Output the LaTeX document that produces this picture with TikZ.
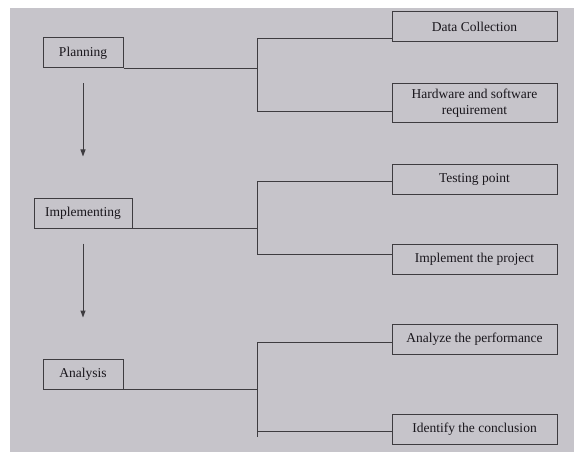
\documentclass[tikz,border=0pt]{standalone}
\usepackage{fontspec}
\setmainfont{Liberation Serif}
\usepackage{xcolor}
\usetikzlibrary{arrows.meta,calc,positioning}

\definecolor{paper}{RGB}{198,196,202}
\definecolor{ink}{RGB}{62,60,64}
\definecolor{textink}{RGB}{25,22,28}

\begin{document}
\begin{tikzpicture}[x=1pt, y=-1pt,
 phase/.style={draw=ink, line width=1pt, minimum height=30pt, inner sep=0pt,
  font=\fontsize{13.5}{16}\selectfont, text=textink},
 task/.style={phase, minimum width=165pt, align=center},
 link/.style={ink, line width=1pt},
 flow/.style={link, -{Triangle[length=7pt,width=5pt]}}]
% Page
\useasboundingbox (0,0) rectangle (574,452);
\fill[paper] (10,8) rectangle (574,452);

% Phases (left column)
\node[phase, minimum width=80pt] (plan) at (83,53) {Planning};
\node[phase, minimum width=98pt] (impl) at (83,213) {Implementing};
\node[phase, minimum width=80pt] (anal) at (83,374) {Analysis};

% Tasks (right column)
\node[task] (data) at (474.5,27) {Data Collection};
\node[task, minimum height=39pt] (hw) at (474.5,103.5) {Hardware and software\\requirement};
\node[task] (test) at (474.5,179.5) {Testing point};
\node[task] (proj) at (474.5,259) {Implement the project};
\node[task] (perf) at (474.5,339.5) {Analyze the performance};
\node[task] (conc) at (474.5,429) {Identify the conclusion};

% Bracket corners
\coordinate (pt) at (257,39);
\coordinate (pb) at (257,112);
\coordinate (it) at (257,182);
\coordinate (ib) at (257,254);
\coordinate (at) at (257,342);
\coordinate (ab) at (257,431);
\coordinate (aend) at (257,437);

% Planning bracket
\draw[link] (plan.south east) -- (plan.south east -| pt);
\draw[link] (pt) -- (pb);
\draw[link] (pt) -- (pt -| data.west);
\draw[link] (pb) -- (pb -| hw.west);

% Implementing bracket
\draw[link] (impl.south east) -- (impl.south east -| it);
\draw[link] (it) -- (ib);
\draw[link] (it) -- (it -| test.west);
\draw[link] (ib) -- (ib -| proj.west);

% Analysis bracket
\draw[link] (anal.south east) -- (anal.south east -| at);
\draw[link] (at) -- (aend);
\draw[link] (at) -- (at -| perf.west);
\draw[link] (ab) -- (ab -| conc.west);

% Flow between phases
\draw[flow, shorten <=15pt, shorten >=41pt] (plan.south) -- (impl.north);
\draw[flow, shorten <=15pt, shorten >=41pt] (impl.south) -- (anal.north);
\end{tikzpicture}
\end{document}
